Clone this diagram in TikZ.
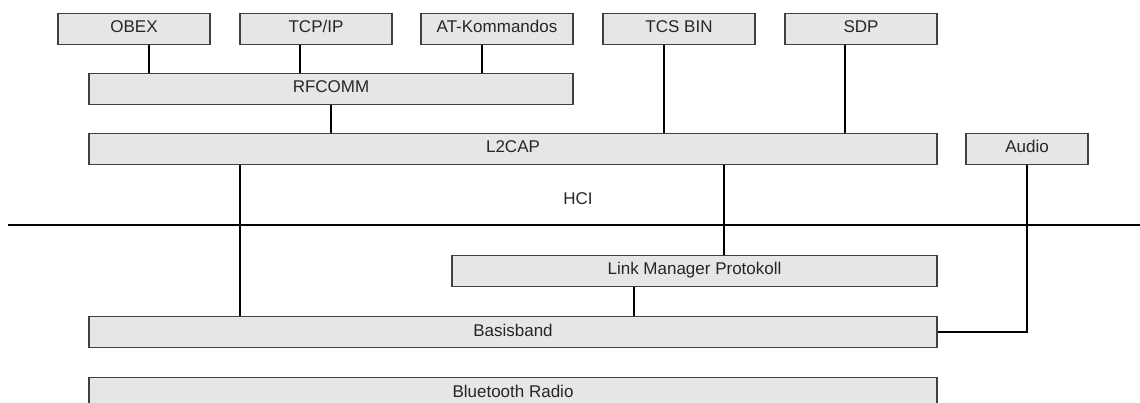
\documentclass[tikz,border=0pt]{standalone}
\usepackage{fontspec}
\setmainfont{Liberation Sans}
\usepackage{xcolor}
\usepackage{tikz}
\usetikzlibrary{
    arrows.meta,
    positioning
}

\definecolor{layerfill}{HTML}{E6E6E6}
\definecolor{layerdraw}{HTML}{404040}

\begin{document}
\begin{tikzpicture}[
x=1pt, y=-1pt,
layer/.style={
draw=layerdraw,
fill=layerfill,
line width=1.3pt,
inner sep=0pt,
minimum height=31pt,
text height=12pt,
text depth=4pt,
align=center,
text=black!85,
font=\fontsize{17}{20}\selectfont
},
proto/.style={
layer,
minimum width=152pt
},
link/.style={
line width=1.8pt,
black
}
]
\useasboundingbox (0,0) rectangle (1140,403);

% upper layers
\node[proto] (obex) at (134,29) {OBEX};
\node[proto] (tcpip) at (316,29) {TCP/IP};
\node[proto] (atcmd) at (497,29) {AT-Kommandos};
\node[proto] (tcsbin) at (679,29) {TCS BIN};
\node[proto] (sdp) at (861,29) {SDP};

\node[layer, minimum width=484pt] (rfcomm) at (331,89) {RFCOMM};
\node[layer, minimum width=848pt] (l2cap) at (513,149) {L2CAP};
\node[layer, minimum width=122pt] (audio) at (1027,149) {Audio};

% host controller interface
\node[font=\fontsize{17}{20}\selectfont, text=black!85] (hci) at (578,199) {HCI};
\coordinate (hcileft) at (8,225);
\coordinate (hciright) at (1140,225);
\draw[link, line width=1.5pt] (hcileft) -- (hciright);

% lower layers
\node[layer, minimum width=485pt] (lmp) at (694.5,271) {Link Manager Protokoll};
\node[layer, minimum width=848pt] (basis) at (513,332) {Basisband};
\node[layer, minimum width=848pt] (radio) at (513,393) {Bluetooth Radio};

% connections
\draw[link] ([xshift=15pt]obex.south) -- ([xshift=15pt]obex.south |- rfcomm.north);
\draw[link] ([xshift=-16pt]tcpip.south) -- ([xshift=-16pt]tcpip.south |- rfcomm.north);
\draw[link] ([xshift=-15pt]atcmd.south) -- ([xshift=-15pt]atcmd.south |- rfcomm.north);
\draw[link] ([xshift=-15pt]tcsbin.south) -- ([xshift=-15pt]tcsbin.south |- l2cap.north);
\draw[link] ([xshift=-16pt]sdp.south) -- ([xshift=-16pt]sdp.south |- l2cap.north);

\draw[link] (rfcomm) -- (rfcomm.south |- l2cap.north);

\draw[link] ([xshift=-273pt]l2cap.south) -- ([xshift=-273pt]l2cap.south |- basis.north);
\draw[link] ([xshift=29.5pt]lmp.north |- l2cap.south) -- ([xshift=29.5pt]lmp.north);
\draw[link] ([xshift=-60.5pt]lmp.south) -- ([xshift=-60.5pt]lmp.south |- basis.north);

\draw[link] (basis.east) -| (audio.south);

\end{tikzpicture}
\end{document}
